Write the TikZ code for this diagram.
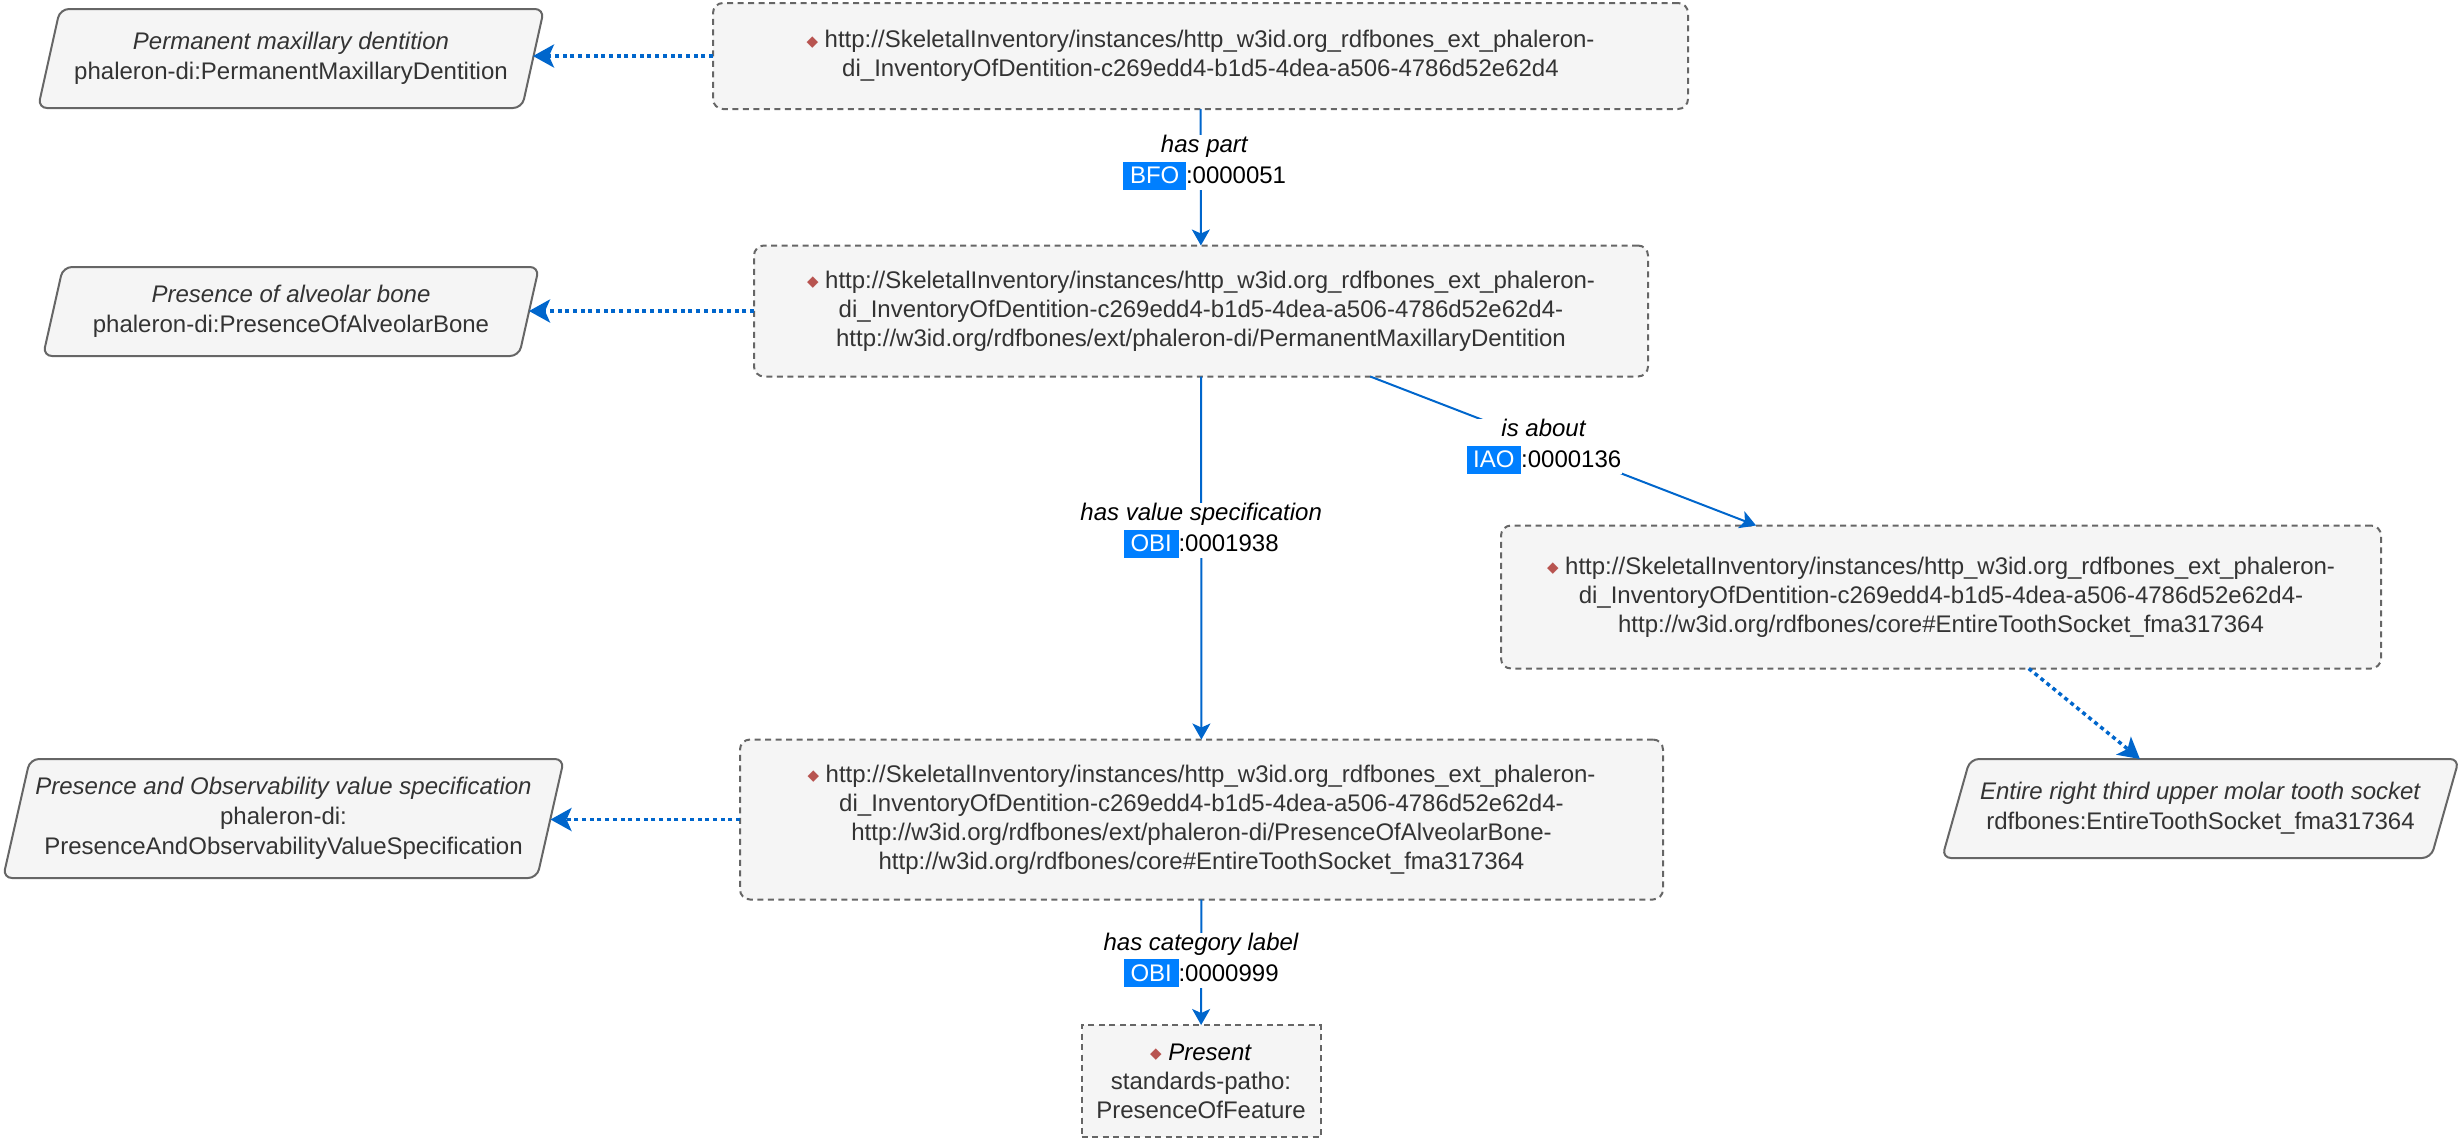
\documentclass[tikz,border=0pt]{standalone}
\usepackage{fontspec}
\setmainfont{Liberation Sans}
\newfontfamily\symfont{DejaVu Sans}
\usetikzlibrary{arrows.meta,backgrounds,calc}
\definecolor{nfill}{HTML}{F5F5F5}
\definecolor{nline}{HTML}{666666}
\definecolor{ntext}{HTML}{333333}
\definecolor{eblue}{HTML}{0066CC}
\definecolor{hlblue}{HTML}{007FFF}
\definecolor{bulred}{HTML}{B85450}
\newcommand\hlbox[1]{{\setlength{\fboxsep}{0pt}\colorbox{hlblue}{\rule[-6pt]{0pt}{28pt}\textcolor{white}{\ #1\ }}}}
\newcommand\dmd{{\symfont\fontsize{15}{15}\selectfont\textcolor{bulred}{\raisebox{1.5pt}{◆}}}\ }
\begin{document}
\begin{tikzpicture}[x=1pt,y=-1pt,
 every node/.style={font=\fontsize{24}{29}\selectfont},
 nbox/.style={draw=nline, line width=2pt, dash pattern=on 6pt off 4.5pt, fill=nfill, rounded corners=10pt, text=ntext, align=center, inner sep=0pt, outer sep=0pt},
 sqbox/.style={nbox, rounded corners=0pt},
 pnode/.style={inner sep=0pt, outer sep=0pt, align=center, text=ntext, font=\fontsize{24}{30}\selectfont},
 pshape/.style={draw=nline, line width=2pt, fill=nfill, rounded corners=9pt},
 solidarrow/.style={draw=eblue, line width=2pt, -{Stealth[length=16pt,width=18pt,inset=4pt]}},
 dotedge/.style={draw=eblue, line width=3.5pt, dash pattern=on 4pt off 3.7pt, -{Stealth[length=21pt,width=23pt,inset=5pt]}},
 elabel/.style={fill=white, inner sep=0.5pt, align=center, text=black, yshift=-3pt, font=\fontsize{24}{31}\selectfont}
]
\useasboundingbox (0,0) rectangle (2464,1138);

% instance boxes
\node[nbox, minimum width=975pt, minimum height=106pt] (n1) at (1200.5,56)
 {\dmd http://SkeletalInventory/instances/http\_w3id.org\_rdfbones\_ext\_phaleron-\\di\_InventoryOfDentition-c269edd4-b1d5-4dea-a506-4786d52e62d4};
\node[nbox, minimum width=894pt, minimum height=131pt] (n2) at (1201,311)
 {\dmd http://SkeletalInventory/instances/http\_w3id.org\_rdfbones\_ext\_phaleron-\\di\_InventoryOfDentition-c269edd4-b1d5-4dea-a506-4786d52e62d4-\\http://w3id.org/rdfbones/ext/phaleron-di/PermanentMaxillaryDentition};
\node[nbox, minimum width=880pt, minimum height=143pt] (n3) at (1941,597)
 {\dmd http://SkeletalInventory/instances/http\_w3id.org\_rdfbones\_ext\_phaleron-\\di\_InventoryOfDentition-c269edd4-b1d5-4dea-a506-4786d52e62d4-\\http://w3id.org/rdfbones/core\#EntireToothSocket\_fma317364};
\node[nbox, minimum width=923pt, minimum height=160pt] (n4) at (1201.5,819.5)
 {\dmd http://SkeletalInventory/instances/http\_w3id.org\_rdfbones\_ext\_phaleron-\\di\_InventoryOfDentition-c269edd4-b1d5-4dea-a506-4786d52e62d4-\\http://w3id.org/rdfbones/ext/phaleron-di/PresenceOfAlveolarBone-\\http://w3id.org/rdfbones/core\#EntireToothSocket\_fma317364};
\node[sqbox, minimum width=239pt, minimum height=112pt] (n5) at (1201,1081)
 {\dmd\textcolor{black}{\textit{Present}}\\standards-patho:\\PresenceOfFeature};

% class parallelograms
\node[pnode, minimum width=506pt, minimum height=99pt] (p1) at (291,58.5)
 {\textit{Permanent maxillary dentition}\\phaleron-di:PermanentMaxillaryDentition};
\node[pnode, minimum width=496pt, minimum height=89pt] (p2) at (291,311.5)
 {\textit{Presence of alveolar bone}\\phaleron-di:PresenceOfAlveolarBone};
\node[pnode, minimum width=561pt, minimum height=119pt] (p3) at (283.5,818.5)
 {\textit{Presence and Observability value specification}\\phaleron-di:\\PresenceAndObservabilityValueSpecification};
\node[pnode, minimum width=517pt, minimum height=99pt] (p4) at (2200.5,808.5)
 {\textit{Entire right third upper molar tooth socket}\\rdfbones:EntireToothSocket\_fma317364};

\begin{scope}[on background layer]
\foreach \n/\s in {p1/22,p2/20,p3/27,p4/28} {
 \draw[pshape] ($(\n.north west)+(\s,0)$) -- (\n.north east) -- ($(\n.south east)+(-\s,0)$) -- (\n.south west) -- cycle;
}
\end{scope}

% object property edges
\draw[solidarrow] (n1) -- node[elabel, pos=0.37, xshift=4pt] {\textit{has part}\\\hlbox{BFO}:0000051} (n2);
\draw[solidarrow] (n2) -- node[elabel, pos=0.416] {\textit{has value specification}\\\hlbox{OBI}:0001938} (n4);
\draw[solidarrow] (n2) -- node[elabel, pos=0.45] {\textit{is about}\\\hlbox{IAO}:0000136} (n3);
\draw[solidarrow] (n4) -- node[elabel, pos=0.46] {\textit{has category label}\\\hlbox{OBI}:0000999} (n5);

% type edges
\draw[dotedge] (n1.west) -- ($(n1.west -| p1.east)+(-11,0)$);
\draw[dotedge] (n2.west) -- ($(n2.west -| p2.east)+(-10,0)$);
\draw[dotedge] (n4.west) -- ($(n4.west -| p3.east)+(-13.5,0)$);
\draw[dotedge] (n3) -- (p4);
\end{tikzpicture}
\end{document}
